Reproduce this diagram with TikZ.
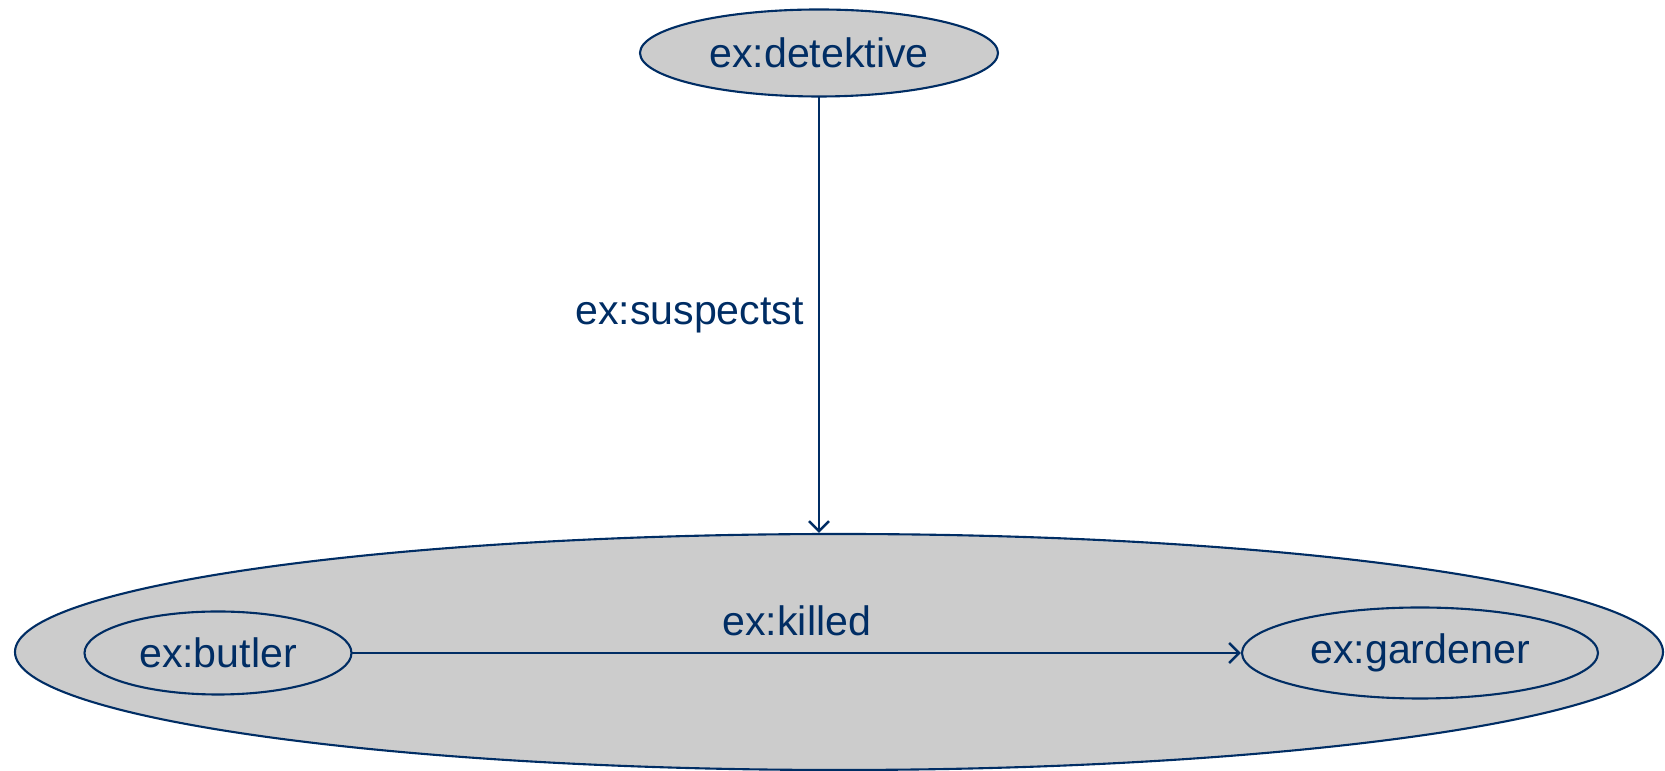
\documentclass[tikz,border=0pt]{standalone}
\usepackage{fontspec}
\setmainfont{Liberation Sans}
\usetikzlibrary{shapes.geometric, arrows.meta}
\definecolor{rdfnavy}{RGB}{0,45,100}
\definecolor{rdfgray}{RGB}{204,204,204}
\tikzset{every text node part/.style={align=center}}
\tikzset{res/.style = {ellipse, draw=rdfnavy, line width=0.6pt, fill=rdfgray,
						 inner sep=0pt, text=rdfnavy,
						 font=\fontsize{11.7}{14}\selectfont}}
\tikzset{prop/.style = {draw=rdfnavy, line width=0.7pt,
						 -{Straight Barb[length=1mm, width=2mm]}}}
\tikzset{plabel/.style = {text=rdfnavy, font=\fontsize{11.7}{14}\selectfont}}

\begin{document}
\begin{tikzpicture}[line cap=round, line join=round]
		\useasboundingbox (0,0) rectangle (16.65,7.71);

		% Quoted graph
		\node[res, minimum width=16.48cm, minimum height=2.36cm] (graph) at (8.39,1.19) {};

		% Resources
		\node[res, minimum width=3.58cm, minimum height=0.87cm] (det) at (8.19,7.18) {ex:detektive};
		\node[res, minimum width=2.67cm, minimum height=0.83cm] (butler) at (2.18,1.18) {ex:butler};
		\node[res, minimum width=3.56cm, minimum height=0.91cm] (gard) at (14.20,1.18) {ex:gardener};

		% Properties
		\draw[prop] (det.south) -- (det.south |- graph.north)
			node[plabel, midway, left, inner sep=4pt] (susp) {ex:suspectst};
		\draw[prop] (butler) -- (gard)
			node[plabel, midway, above, inner sep=4.5pt] (kill) {ex:killed};
	\end{tikzpicture}
\end{document}
